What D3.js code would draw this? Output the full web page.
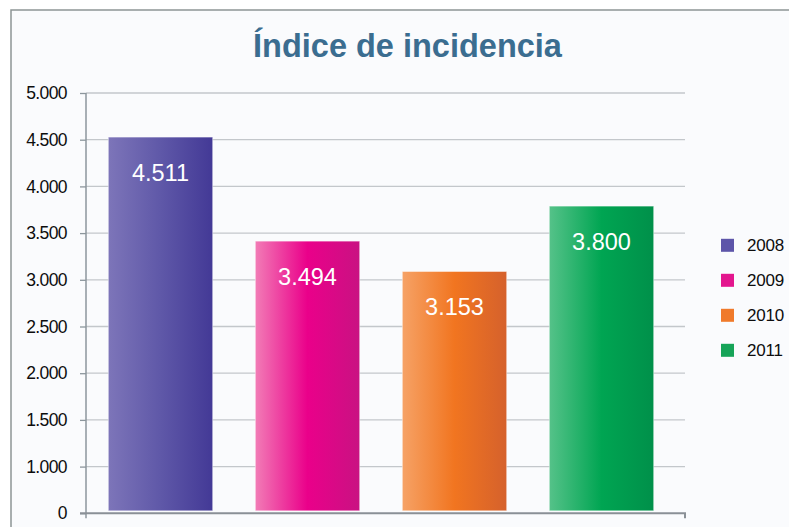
<!DOCTYPE html>
<html>
<head>
<meta charset="utf-8">
<script src="https://cdn.jsdelivr.net/npm/d3@7"></script>
<style>
  body { margin: 0; background: #fff; }
  svg { display: block; font-family: "Liberation Sans", Arial, sans-serif; }
</style>
</head>
<body>
<script>
const w = 789;
const h = 527;

// data
const years = ["2008", "2009", "2010", "2011"];
const values = [4511, 3494, 3153, 3800];        // printed labels
const barHeights = [4528, 3414, 3089, 3789];    // heights as drawn
const yTicks = [0, 1000, 1500, 2000, 2500, 3000, 3500, 4000, 4500, 5000];

const gradStops = [
  ["#7d75b9", "#5f58a8", "#433996"],
  ["#f27cb6", "#ea008a", "#c91282"],
  ["#f6a266", "#f17520", "#d5612c"],
  ["#55c289", "#00a552", "#00904a"]
];
const legendColors = ["#5d55a9", "#e3168e", "#f07a2b", "#16a458"];

const fmt = d3.formatLocale({ decimal: ",", thousands: ".", grouping: [3], currency: ["", ""] }).format(",");

// the original axis skips 500: 0 sits one step below 1.000
const yScale = d3.scaleLinear()
  .domain([0, 1000, 5000])
  .range([513.3, 466.6, 93]);

const xScale = d3.scaleBand()
  .domain(years)
  .range([87, 675])
  .paddingInner(0.29)
  .paddingOuter(0.145);

const svg = d3.select("body").append("svg")
  .attr("width", w)
  .attr("height", h);

const defs = svg.append("defs");
years.forEach((y, i) => {
  const g = defs.append("linearGradient")
    .attr("id", "g" + y)
    .attr("x1", "0%").attr("x2", "100%").attr("y1", "0%").attr("y2", "0%");
  gradStops[i].forEach((c, j) => {
    g.append("stop").attr("offset", (j * 50) + "%").attr("stop-color", c);
  });
});

// frame
svg.append("rect")
  .attr("x", 11).attr("y", 10)
  .attr("width", w).attr("height", h)
  .attr("fill", "#fafbfd")
  .attr("stroke", "#8d9595")
  .attr("stroke-width", 1.5);

svg.append("text")
  .attr("x", 407.5).attr("y", 56.5)
  .attr("text-anchor", "middle")
  .attr("font-size", 32.5)
  .attr("font-weight", "bold")
  .attr("fill", "#3b6d90")
  .text("Índice de incidencia");

// gridlines
svg.append("g")
  .selectAll("line")
  .data(yTicks.filter(d => d > 0))
  .enter()
  .append("line")
  .attr("x1", 86).attr("x2", 685)
  .attr("y1", d => yScale(d)).attr("y2", d => yScale(d))
  .attr("stroke", "#c3c7cb")
  .attr("stroke-width", 1.3);

const yAxis = d3.axisLeft(yScale)
  .tickValues(yTicks)
  .tickFormat(d => fmt(d))
  .tickSize(6)
  .tickPadding(13);

const yg = svg.append("g")
  .attr("id", "y-axis")
  .attr("transform", "translate(86,0)")
  .call(yAxis);
yg.select(".domain").remove();
yg.selectAll(".tick line").attr("stroke", "#8c969c").attr("stroke-width", 1.3);
yg.selectAll(".tick text")
  .attr("font-size", 17.5)
  .attr("letter-spacing", -0.6)
  .attr("fill", "#0d0d0d")
  .attr("font-family", "'Liberation Sans', Arial, sans-serif");

svg.append("line")
  .attr("x1", 86).attr("x2", 86)
  .attr("y1", yScale(5000)).attr("y2", yScale(0) + 5)
  .attr("stroke", "#8c969c").attr("stroke-width", 1.5);

// bars
svg.append("g")
  .selectAll("rect")
  .data(years)
  .enter()
  .append("rect")
  .attr("x", d => xScale(d))
  .attr("width", xScale.bandwidth())
  .attr("y", (d, i) => yScale(barHeights[i]))
  .attr("height", (d, i) => yScale(0) - 2.5 - yScale(barHeights[i]))
  .attr("fill", d => "url(#g" + d + ")")
  .attr("stroke", "rgba(255,255,255,0.45)")
  .attr("stroke-width", 1);

svg.append("g")
  .selectAll("text")
  .data(years)
  .enter()
  .append("text")
  .attr("x", d => xScale(d) + xScale.bandwidth() / 2)
  .attr("y", (d, i) => yScale(barHeights[i]) + 44)
  .attr("text-anchor", "middle")
  .attr("font-size", 23.5)
  .attr("fill", "#ffffff")
  .text((d, i) => fmt(values[i]));

// x axis line
svg.append("path")
  .attr("d", "M80," + yScale(0) + "H685V" + (yScale(0) + 5))
  .attr("fill", "none")
  .attr("stroke", "#8a9096")
  .attr("stroke-width", 2);

// legend
const legend = svg.append("g")
  .selectAll("g")
  .data(years)
  .enter()
  .append("g")
  .attr("transform", (d, i) => "translate(721," + (245.3 + i * 35) + ")");

legend.append("rect")
  .attr("x", 0).attr("y", -6.5)
  .attr("width", 13).attr("height", 13)
  .attr("fill", (d, i) => legendColors[i]);

legend.append("text")
  .attr("x", 26).attr("y", 6)
  .attr("font-size", 17)
  .attr("letter-spacing", -0.2)
  .attr("fill", "#0d0d0d")
  .text(d => d);
</script>
</body>
</html>
